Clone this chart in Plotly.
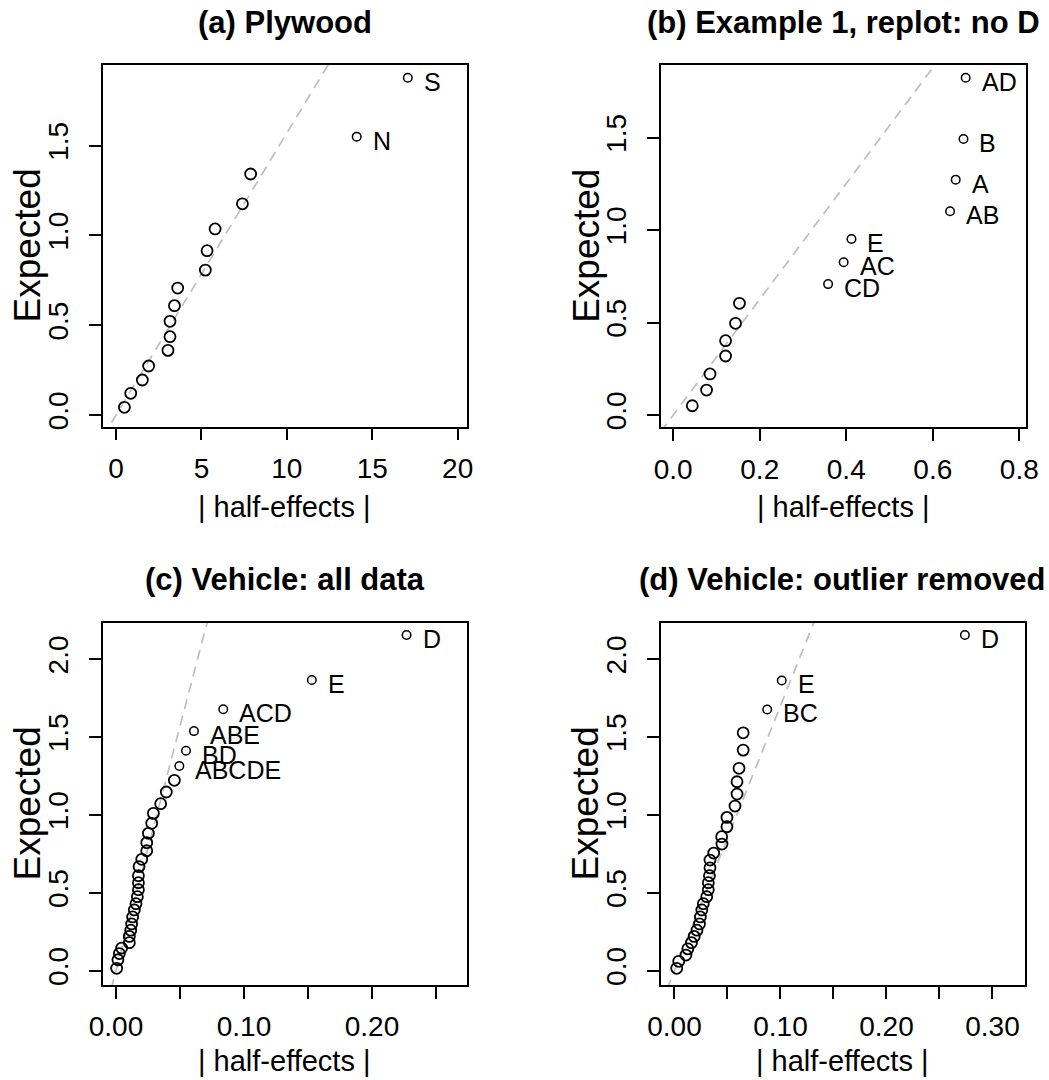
import plotly.graph_objects as go

FONT = "Liberation Sans, Arial, Helvetica, sans-serif"

# ---------------- data ----------------
# (a) Plywood
a_x = [0.49, 0.86, 1.54, 1.91, 3.04, 3.16, 3.16, 3.42, 3.61, 5.23, 5.33, 5.80, 7.40, 7.88, 14.09, 17.08]
a_y = [0.043, 0.121, 0.195, 0.273, 0.360, 0.436, 0.522, 0.609, 0.707, 0.807, 0.915, 1.036, 1.176, 1.342, 1.550, 1.878]
a_lab = [""] * 14 + ["N", "S"]
a_slope = 0.157

# (b) Example 1, replot: no D
b_x = [0.044, 0.077, 0.085, 0.121, 0.121, 0.144, 0.153, 0.358, 0.394, 0.412, 0.640, 0.653, 0.671, 0.676]
b_y = [0.050, 0.135, 0.222, 0.319, 0.402, 0.496, 0.604, 0.708, 0.826, 0.952, 1.102, 1.273, 1.493, 1.824]
b_lab = [""] * 7 + ["CD", "AC", "E", "AB", "A", "B", "AD"]
b_slope = 3.13

# (c) Vehicle: all data
c_x = [0.0005, 0.0015, 0.0026, 0.0044, 0.0104, 0.0104, 0.0115, 0.0122, 0.0130, 0.0143,
       0.0156, 0.0167, 0.0175, 0.0175, 0.0175, 0.0180, 0.0201, 0.0240, 0.0240, 0.0253,
       0.0279, 0.0292, 0.0349, 0.0393, 0.0456, 0.0495, 0.0547, 0.0609, 0.0838, 0.153, 0.227]
c_y = [0.015, 0.07, 0.11, 0.145, 0.18, 0.22, 0.26, 0.30, 0.345, 0.39,
       0.43, 0.475, 0.52, 0.565, 0.61, 0.668, 0.715, 0.77, 0.822, 0.882,
       0.946, 1.010, 1.072, 1.147, 1.222, 1.314, 1.412, 1.538, 1.678, 1.866, 2.155]
c_lab = [""] * 25 + ["ABCDE", "BD", "ABE", "ACD", "E", "D"]
c_slope = 31.4

# (d) Vehicle: outlier removed
d_x = [0.0021, 0.0040, 0.0108, 0.0126, 0.0160, 0.0186, 0.0212, 0.0236, 0.0244, 0.0258,
       0.0272, 0.0304, 0.0319, 0.0319, 0.0330, 0.0335, 0.0335, 0.0370, 0.0448, 0.0445,
       0.0495, 0.0495, 0.0571, 0.0590, 0.0590, 0.0609, 0.0648, 0.0648, 0.0875, 0.1012, 0.274]
d_y = [0.015, 0.06, 0.10, 0.14, 0.18, 0.22, 0.26, 0.30, 0.345, 0.39,
       0.43, 0.475, 0.52, 0.565, 0.61, 0.66, 0.71, 0.755, 0.813, 0.860,
       0.924, 0.984, 1.057, 1.134, 1.213, 1.299, 1.416, 1.527, 1.677, 1.863, 2.155]
d_lab = [""] * 28 + ["BC", "E", "D"]
d_slope = 17.0

titles = ["(a) Plywood", "(b) Example 1, replot: no D",
          "(c) Vehicle: all data", "(d) Vehicle: outlier removed"]

a_xticks = [0, 5, 10, 15, 20]
a_xticktext = ["0", "5", "10", "15", "20"]
b_xticks = [0.0, 0.2, 0.4, 0.6, 0.8]
b_xticktext = ["0.0", "0.2", "0.4", "0.6", "0.8"]
c_xticks = [0.0, 0.05, 0.10, 0.15, 0.20, 0.25]
c_xticktext = ["0.00", "", "0.10", "", "0.20", ""]
d_xticks = [0.0, 0.05, 0.10, 0.15, 0.20, 0.25, 0.30]
d_xticktext = ["0.00", "", "0.10", "", "0.20", "", "0.30"]
ab_yticks = [0.0, 0.5, 1.0, 1.5]
ab_yticktext = ["0.0", "0.5", "1.0", "1.5"]
cd_yticks = [0.0, 0.5, 1.0, 1.5, 2.0]
cd_yticktext = ["0.0", "0.5", "1.0", "1.5", "2.0"]

# ---------------- layout geometry ----------------
W, H = 1049, 1080
TICK_SIZE = 28
XT_SIZE = 29
YT_SIZE = 37
LAB_SIZE = 25
TITLE_SIZE = 31


def px_x(p):
    return p / W


def px_y(p):
    return 1 - p / H


panels = [
    dict(x=a_x, y=a_y, lab=a_lab, slope=a_slope, xr=[-0.78, 20.53], yr=[-0.065, 1.949],
         xt=a_xticks, xtt=a_xticktext, yt=ab_yticks, ytt=ab_yticktext,
         dx=[102.7, 466.7], dy=[65, 426.7], xty=507),
    dict(x=b_x, y=b_y, lab=b_lab, slope=b_slope, xr=[-0.029, 0.8155], yr=[-0.0665, 1.893],
         xt=b_xticks, xtt=b_xticktext, yt=ab_yticks, ytt=ab_yticktext,
         dx=[660.7, 1026], dy=[65, 427.3], xty=507),
    dict(x=c_x, y=c_y, lab=c_lab, slope=c_slope, xr=[-0.0104, 0.274], yr=[-0.092, 2.234],
         xt=c_xticks, xtt=c_xticktext, yt=cd_yticks, ytt=cd_yticktext,
         dx=[102.7, 466.7], dy=[622.7, 985], xty=1061),
    dict(x=d_x, y=d_y, lab=d_lab, slope=d_slope, xr=[-0.013, 0.3307], yr=[-0.092, 2.234],
         xt=d_xticks, xtt=d_xticktext, yt=cd_yticks, ytt=cd_yticktext,
         dx=[660.7, 1025], dy=[622.7, 985], xty=1061),
]

fig = go.Figure()
annotations = []
layout = dict(
    template="none",
    width=W, height=H, autosize=False,
    margin=dict(l=0, r=0, t=0, b=0, pad=0, autoexpand=False),
    paper_bgcolor="white", plot_bgcolor="white",
    showlegend=False, font=dict(family=FONT, color="black", size=TICK_SIZE),
)

for i, p in enumerate(panels):
    n = "" if i == 0 else str(i + 1)
    xa, ya = "x" + n, "y" + n
    # reference line through the origin
    lx = [p["xr"][0], p["xr"][1]]
    ly = [p["slope"] * v for v in lx]
    fig.add_trace(go.Scatter(x=lx, y=ly, xaxis=xa, yaxis=ya, mode="lines",
                             line=dict(color="#BEBEBE", width=1.7, dash="10px,7px"),
                             hoverinfo="skip"))
    ux = [xv for xv, l in zip(p["x"], p["lab"]) if not l]
    uy = [yv for yv, l in zip(p["y"], p["lab"]) if not l]
    lxs = [xv for xv, l in zip(p["x"], p["lab"]) if l]
    lys = [yv for yv, l in zip(p["y"], p["lab"]) if l]
    labs = [l for l in p["lab"] if l]
    fig.add_trace(go.Scatter(x=ux, y=uy, xaxis=xa, yaxis=ya, mode="markers",
                             marker=dict(symbol="circle-open", size=11, color="black",
                                         line=dict(width=1.8, color="black")),
                             cliponaxis=False))
    fig.add_trace(go.Scatter(x=lxs, y=lys, xaxis=xa, yaxis=ya, mode="markers",
                             marker=dict(symbol="circle-open", size=8.5, color="black",
                                         line=dict(width=1.5, color="black")),
                             cliponaxis=False))
    for xv, yv, t in zip(lxs, lys, labs):
        annotations.append(dict(x=xv, y=yv, xref=xa, yref=ya, text=t, showarrow=False,
                                xanchor="left", yanchor="middle", xshift=14, yshift=-4,
                                font=dict(size=LAB_SIZE, family=FONT, color="black")))
    dom_x = [px_x(p["dx"][0]), px_x(p["dx"][1])]
    dom_y = [px_y(p["dy"][1]), px_y(p["dy"][0])]
    common = dict(showline=True, mirror=True, linecolor="black", linewidth=1.5,
                  ticks="outside", ticklen=12, tickwidth=1.5, tickcolor="black",
                  showgrid=False, zeroline=False, automargin=False,
                  tickfont=dict(size=TICK_SIZE, family=FONT, color="black"),
                  fixedrange=True)
    layout["xaxis" + n] = dict(common, domain=dom_x, range=p["xr"], anchor=ya,
                               tickmode="array", tickvals=p["xt"], ticktext=p["xtt"],
                               ticklabelstandoff=4)
    layout["yaxis" + n] = dict(common, domain=dom_y, range=p["yr"], anchor=xa,
                               tickmode="array", tickvals=p["yt"], ticktext=p["ytt"],
                               tickangle=-90, ticklabelstandoff=10)
    cx = (dom_x[0] + dom_x[1]) / 2
    cy = (dom_y[0] + dom_y[1]) / 2
    # panel title
    annotations.append(dict(x=cx, y=px_y(p["dy"][0] - 43), xref="paper", yref="paper",
                            text="<b>" + titles[i] + "</b>", showarrow=False,
                            xanchor="center", yanchor="middle",
                            font=dict(size=TITLE_SIZE, family=FONT, color="black")))
    # x axis title
    annotations.append(dict(x=cx, y=px_y(p["xty"]), xref="paper", yref="paper",
                            text="| half-effects |", showarrow=False,
                            xanchor="center", yanchor="middle", borderpad=0,
                            font=dict(size=XT_SIZE, family=FONT, color="black")))
    # y axis title
    annotations.append(dict(x=px_x(p["dx"][0] - 75), y=cy, xref="paper", yref="paper",
                            text="Expected", showarrow=False, textangle=-90,
                            xanchor="center", yanchor="middle",
                            font=dict(size=YT_SIZE, family=FONT, color="black")))

layout["annotations"] = annotations
fig.update_layout(**layout)
fig.write_html("out.html")
